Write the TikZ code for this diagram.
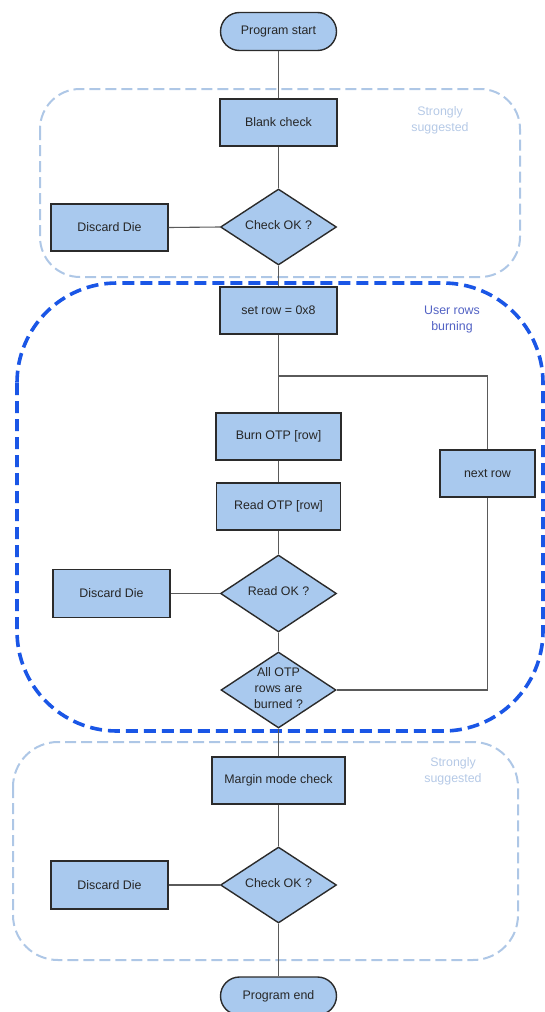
\documentclass[tikz,border=0pt]{standalone}
\usepackage{fontspec}
\setmainfont{Liberation Sans}
\usetikzlibrary{shapes.geometric}
\definecolor{boxfill}{HTML}{A9C9EE}
\definecolor{boxline}{HTML}{2B2B2B}
\definecolor{conn}{HTML}{5A5A5A}
\definecolor{lightdash}{HTML}{AEC7E6}
\definecolor{bluedash}{HTML}{1A56E6}
\definecolor{softtext}{HTML}{B5C9E6}
\definecolor{usertext}{HTML}{5262C4}
\tikzset{
  txt/.style={font=\fontsize{12.4}{16}\selectfont, text=black!85, align=center},
  procbox/.style={txt, draw=boxline, fill=boxfill, line width=1.4pt, rectangle, minimum height=47pt, inner sep=0pt},
  pill/.style={txt, draw=boxline, fill=boxfill, line width=1.4pt, rectangle, rounded corners=19pt, minimum width=116pt, minimum height=38pt, inner sep=0pt},
  dia/.style={draw=boxline, fill=boxfill, line width=1.4pt, diamond, minimum width=116pt, minimum height=76pt, inner sep=0pt},
  dialabel/.style={txt},
  link/.style={draw=conn, line width=1.1pt},
  softgroup/.style={draw=lightdash, line width=2pt, dash pattern=on 11pt off 5pt},
  strong group/.style={draw=bluedash, line width=3.6pt, dash pattern=on 12pt off 6pt},
  grouplabel/.style={font=\fontsize{12.4}{16}\selectfont, align=center}
}
\begin{document}
\begin{tikzpicture}[x=1pt,y=-1pt]
\useasboundingbox (0,0) rectangle (544,1012);
% groups
\draw[softgroup, rounded corners=40pt] (40,89) rectangle (520,277);
\draw[strong group, rounded corners=100pt] (17,283) rectangle (543,731);
\draw[softgroup, rounded corners=45pt] (13,742) rectangle (518,960);
\node[grouplabel, text=softtext] (gl1) at (440,120) {Strongly\\suggested};
\node[grouplabel, text=usertext] (gl2) at (452,319.5) {User rows\\burning};
\node[grouplabel, text=softtext] (gl3) at (453,771) {Strongly\\suggested};

% nodes
\node[pill] (start) at (278.5,31.5) {Program start};
\node[procbox, minimum width=117pt] (blank) at (278.5,122.5) {Blank check};
\node[dia] (c1) at (278.5,227) {};
\node[dialabel] (c1t) at (278.5,225.5) {Check OK ?};
\node[procbox, minimum width=117pt] (d1) at (109.5,227.5) {Discard Die};

\node[procbox, minimum width=117pt] (setrow) at (278.5,310.5) {set row = 0x8};
\node[procbox, minimum width=125pt] (burn) at (278.5,436.5) {Burn OTP [row]};
\node[procbox, minimum width=124pt] (read) at (278.5,506.5) {Read OTP [row]};
\node[dia, minimum height=77pt] (rok) at (278.5,593.5) {};
\node[dialabel] (rokt) at (278.5,591) {Read OK ?};
\node[procbox, minimum width=117pt, minimum height=48pt] (d2) at (111.5,593.5) {Discard Die};
\node[dia, minimum width=115pt] (all) at (278.5,690) {};
\node[dialabel] (allt) at (278.5,688.5) {All OTP\\rows are\\burned ?};
\node[procbox, minimum width=95pt] (next) at (487.5,473.5) {next row};

\node[procbox, minimum width=133pt] (margin) at (278.5,780.5) {Margin mode check};
\node[dia] (c3) at (278.5,885) {};
\node[dialabel] (c3t) at (278.5,883.5) {Check OK ?};
\node[procbox, minimum width=117pt, minimum height=48pt] (d3) at (109.5,885) {Discard Die};
\node[pill] (end) at (278.5,996) {Program end};

\coordinate (junc) at (278.5,376);

% connectors
\draw[link] (start.south) -- (blank.north);
\draw[link] (blank.south) -- (c1.north);
\draw[link] (c1.west) -- (d1.east);
\draw[link] (c1.south) -- (setrow.north);
\draw[link] (setrow.south) -- (junc) -- (burn.north);
\draw[link] (junc) -| (next.north);
\draw[link] (burn.south) -- (read.north);
\draw[link] (read.south) -- (rok.north);
\draw[link] (rok.west) -- (d2.east);
\draw[link] (rok.south) -- (all.north);
\draw[link] (all.east) -| (next.south);
\draw[link] (all.south) -- (margin.north);
\draw[link] (margin.south) -- (c3.north);
\draw[link] (c3.west) -- (d3.east);
\draw[link] (c3.south) -- (end.north);
\end{tikzpicture}
\end{document}
